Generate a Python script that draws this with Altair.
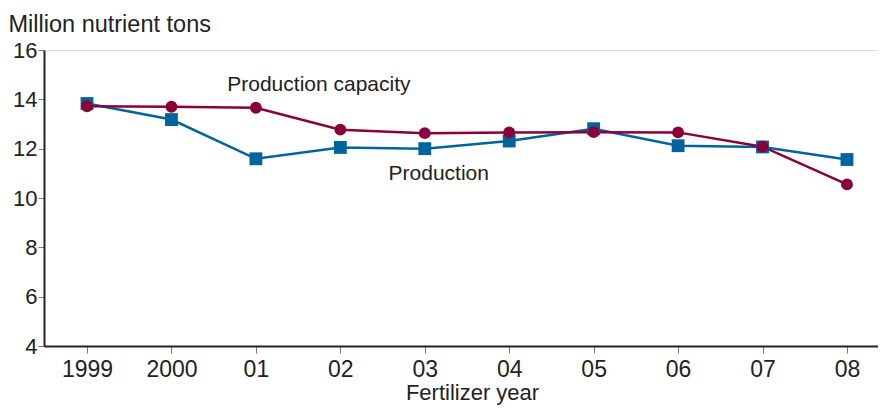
import altair as alt
import pandas as pd

years = ["1999", "2000", "01", "02", "03", "04", "05", "06", "07", "08"]
production = [13.83, 13.18, 11.59, 12.05, 12.0, 12.31, 12.81, 12.12, 12.07, 11.56]
capacity = [13.72, 13.7, 13.66, 12.77, 12.63, 12.66, 12.67, 12.66, 12.08, 10.55]

series_names = ["Production", "Production capacity"]
series_colors = ["#00649c", "#8a0039"]

ann_text = ["Production capacity", "Production"]
ann_year = ["01", "03"]
ann_value = [14.35, 10.72]
ann_dx = [63, 14]

FONT = "Liberation Sans"
TXT = "#222222"

df = pd.DataFrame({
    "year": years * 2,
    "value": production + capacity,
    "series": [series_names[0]] * len(years) + [series_names[1]] * len(years),
})

xenc = alt.X(
    "year:N", sort=years,
    scale=alt.Scale(type="point", padding=0.4385, align=0.581),
    axis=alt.Axis(
        title="Fertilizer year", labelAngle=0, labelFontSize=23, titleFontSize=22,
        labelColor=TXT, titleColor=TXT, titleFontWeight="normal",
        domainColor=TXT, domainWidth=2, tickColor="#777777", tickSize=7,
        labelPadding=5, titlePadding=1, titleX=428, titleAlign="center",
        grid=False, labelFont=FONT, titleFont=FONT,
    ),
)
yenc = alt.Y(
    "value:Q",
    scale=alt.Scale(domain=[4, 16], nice=False, zero=False),
    axis=alt.Axis(
        title="Million nutrient tons", values=[4, 6, 8, 10, 12, 14, 16],
        labelFontSize=22, titleFontSize=23.5, labelColor=TXT, titleColor=TXT,
        titleFontWeight="normal", titleAngle=0, titleAlign="left", titleBaseline="alphabetic",
        titleX=-36, titleY=-19, domainColor=TXT, domainWidth=2,
        tickColor="#777777", tickSize=6, labelPadding=1, grid=False,
        labelFont=FONT, titleFont=FONT,
    ),
)
color = alt.Color("series:N", scale=alt.Scale(domain=series_names, range=series_colors), legend=None)

base = alt.Chart(df)
prod = base.transform_filter(alt.datum.series == series_names[0])
cap = base.transform_filter(alt.datum.series == series_names[1])

layers = [
    prod.mark_line(strokeWidth=2.5).encode(x=xenc, y=yenc, color=color),
    cap.mark_line(strokeWidth=2.5).encode(x=xenc, y=yenc, color=color),
    prod.mark_point(shape="square", filled=True, size=165, opacity=1).encode(x=xenc, y=yenc, color=color),
    cap.mark_point(shape="circle", filled=True, size=140, opacity=1).encode(x=xenc, y=yenc, color=color),
]

for t, yr, v, d in zip(ann_text, ann_year, ann_value, ann_dx):
    layers.append(
        alt.Chart(pd.DataFrame({"text": [t], "year": [yr], "value": [v]})).mark_text(
            fontSize=21, font=FONT, color=TXT, align="center", baseline="alphabetic", dx=d
        ).encode(x=alt.X("year:N", sort=years), y="value:Q", text="text:N")
    )

chart = alt.layer(*layers).properties(
    width=834, height=296,
    padding={"left": 36, "top": 42, "right": 0, "bottom": 59},
    autosize=alt.AutoSizeParams(type="none"),
).configure_view(stroke=None).configure(font=FONT)

chart.save("out.html", embed_options={"renderer": "svg", "actions": False})
